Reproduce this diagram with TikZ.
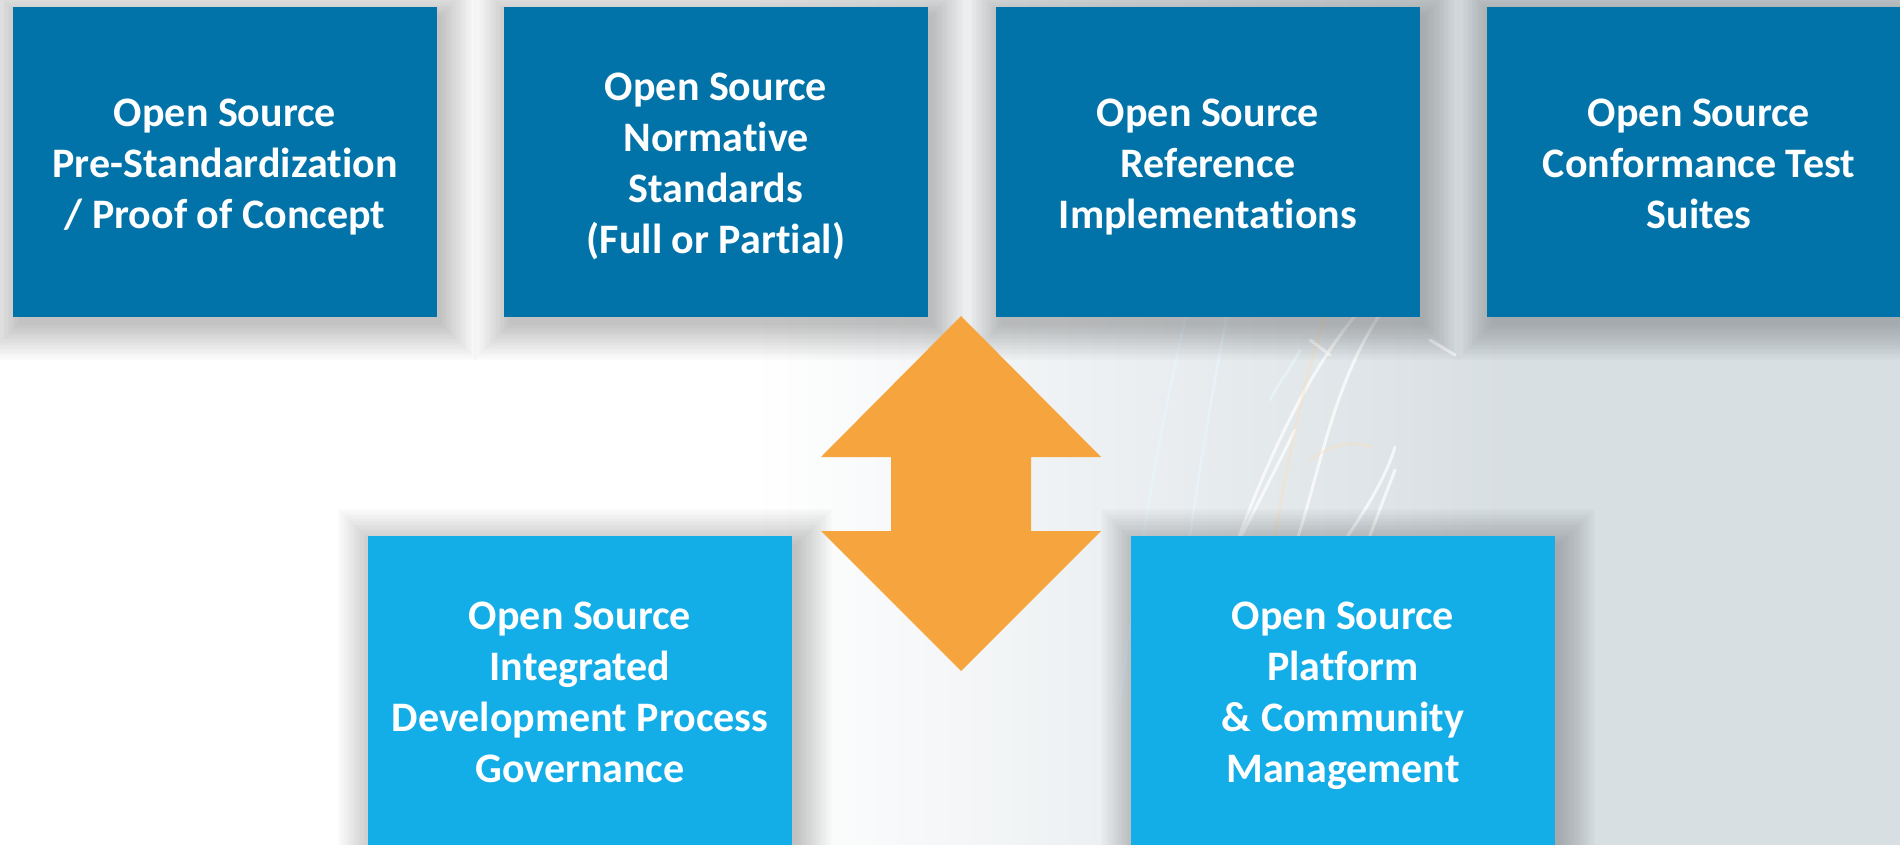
\documentclass[tikz,border=0pt]{standalone}
\usepackage{fontspec}
\setmainfont{Carlito}[Ligatures={NoCommon,NoRequired,NoContextual}]
\definecolor{topblue}{HTML}{0273A8}
\definecolor{lightblue}{HTML}{13AEE8}
\definecolor{arroworange}{HTML}{F6A43D}
\definecolor{bggray}{HTML}{D8DFE3}
\definecolor{fiberblue}{HTML}{E8F4FA}
\pgfdeclarelayer{back}
\pgfdeclarelayer{shadowlayer}
\pgfsetlayers{back,shadowlayer,main}
\tikzset{
  card/.style={rectangle, inner sep=0pt, minimum width=424pt, minimum height=310pt,
    text=white, align=center, font=\fontsize{42}{51}\selectfont\bfseries},
  topcard/.style={card, fill=topblue},
  botcard/.style={card, fill=lightblue},
  shadowpiece/.style={fill=black, opacity=0.016},
  fiber/.style={line width=3pt, white, opacity=0.7, line cap=round},
  fiberb/.style={line width=2.5pt, fiberblue, opacity=0.85, line cap=round},
  fibero/.style={line width=2.5pt, arroworange!35, opacity=0.4, line cap=round},
  dblarrow/.style={fill=arroworange}
}
\newcommand{\firstline}{\rule{0pt}{45.7pt}}
\newcommand{\cardshadow}[1]{%
  \foreach \k in {0,...,14}{%
    \fill[shadowpiece] ([xshift=5pt-\k*2.5pt, yshift=-8pt+\k*2.5pt]#1.north west)
      rectangle ([xshift=5pt+\k*2.5pt, yshift=-8pt-\k*2.5pt]#1.south east);
  }%
}
\begin{document}
\begin{tikzpicture}[x=1pt,y=-1pt]
\useasboundingbox (0,0) rectangle (1900,845);
\clip (0,0) rectangle (1900,845);
\begin{pgfonlayer}{back}
% background
\fill[white] (0,0) rectangle (1900,845);
\shade[left color=white, right color=bggray] (750,0) rectangle (1500,845);
\fill[bggray] (1499,0) rectangle (1900,845);
% faint fibers
\draw[fiberb] (1120,700) .. controls (1140,550) and (1160,420) .. (1190,300);
\draw[fiberb] (1160,760) .. controls (1180,600) and (1200,450) .. (1230,300);
\draw[fiber] (1185,640) .. controls (1230,560) and (1270,480) .. (1295,430);
\draw[fiber] (1230,560) .. controls (1260,480) and (1300,380) .. (1360,310);
\draw[fibero] (1250,700) .. controls (1270,560) and (1290,420) .. (1330,300);
\draw[fiber] (1290,560) .. controls (1320,480) and (1330,380) .. (1390,300);
\draw[fiber] (1315,690) .. controls (1335,630) and (1360,560) .. (1395,470);
\draw[fiber] (1345,540) .. controls (1365,510) and (1385,480) .. (1395,447);
\draw[fibero] (1310,460) .. controls (1330,445) and (1350,440) .. (1372,447);
\draw[fiberb] (1270,400) .. controls (1280,380) and (1290,370) .. (1300,350);
\draw[fiber] (1430,340) -- (1455,355);
\draw[fiber] (1310,340) -- (1330,355);
\end{pgfonlayer}
% top row
\node[topcard] (pre) at (225,162) {\firstline Open Source\\Pre-Standardization\\/ Proof of Concept\strut};
\node[topcard] (norm) at (716,162) {\firstline Open Source\\Normative\\Standards\\(Full or Partial)\strut};
\node[topcard] (ref) at (1208,162) {\firstline Open Source\\Reference\\Implementations\strut};
\node[topcard] (conf) at (1699,162) {\firstline Open Source\\Conformance Test\\Suites\strut};
% bottom row
\node[botcard] (gov) at (580,691) {\firstline Open Source\\Integrated\\Development Process\\Governance\strut};
\node[botcard] (plat) at (1343,691) {\firstline Open Source\\Platform\\\& Community\\Management\strut};
\begin{pgfonlayer}{shadowlayer}
\cardshadow{pre}\cardshadow{norm}\cardshadow{ref}\cardshadow{conf}
\cardshadow{gov}\cardshadow{plat}
\end{pgfonlayer}
% double arrow
\coordinate (atop) at (961,316);
\coordinate (abot) at (961,671);
\fill[dblarrow] (atop) -- (1101,457) -- (1031,457) -- (1031,531) -- (1101,531) -- (abot)
  -- (821,531) -- (891,531) -- (891,457) -- (821,457) -- cycle;
\end{tikzpicture}
\end{document}
